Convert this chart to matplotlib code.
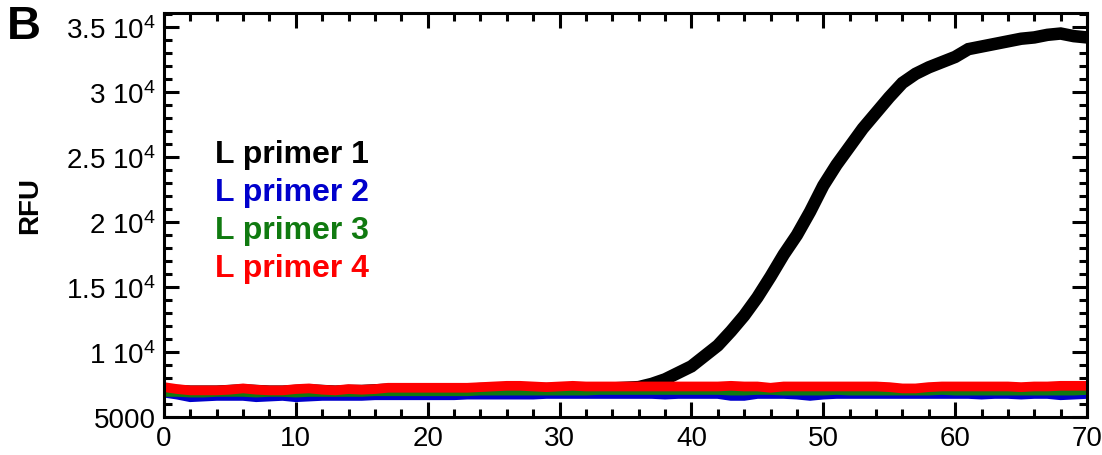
import numpy as np
import matplotlib
matplotlib.use("Agg")
import matplotlib.pyplot as plt
from matplotlib.ticker import MultipleLocator, FuncFormatter

plt.rcParams['font.family'] = ['Liberation Sans', 'DejaVu Sans']
plt.rcParams['mathtext.default'] = 'regular'

cycles = list(range(0, 71))

primer1 = [7050, 7000, 6950, 6950, 6950, 7000, 7050, 7000, 6950, 6950,
           7000, 7050, 7000, 6950, 7000, 7000, 7050, 7100, 7100, 7100,
           7100, 7100, 7100, 7100, 7150, 7150, 7200, 7200, 7150, 7150,
           7150, 7200, 7200, 7200, 7200, 7250, 7300, 7550, 7900, 8400,
           8900, 9700, 10500, 11600, 12800, 14200, 15800, 17500, 19000, 20800,
           22800, 24400, 25800, 27200, 28400, 29600, 30700, 31400, 31900, 32300,
           32700, 33300, 33500, 33700, 33900, 34100, 34200, 34400, 34500, 34300,
           34200]

primer2 = [6900, 6750, 6550, 6600, 6650, 6650, 6650, 6550, 6600, 6650,
           6550, 6600, 6650, 6650, 6650, 6650, 6700, 6700, 6700, 6700,
           6700, 6700, 6700, 6750, 6750, 6750, 6750, 6750, 6750, 6800,
           6800, 6800, 6800, 6800, 6800, 6800, 6800, 6800, 6750, 6800,
           6800, 6800, 6800, 6650, 6650, 6800, 6800, 6800, 6750, 6650,
           6750, 6800, 6800, 6800, 6800, 6800, 6800, 6800, 6800, 6800,
           6800, 6800, 6750, 6800, 6800, 6750, 6800, 6800, 6700, 6750,
           6800]

primer3 = [6850, 6850, 6800, 6800, 6850, 6850, 6850, 6800, 6850, 6850,
           6800, 6850, 6850, 6850, 6850, 6850, 6900, 6900, 6900, 6900,
           6900, 6900, 6900, 6900, 6950, 6950, 6950, 6950, 6950, 6950,
           6950, 6950, 6950, 7000, 7000, 7000, 7000, 7000, 7000, 7000,
           7000, 7000, 7000, 6950, 6950, 7000, 7000, 6950, 6950, 6950,
           6950, 7000, 6950, 6950, 6950, 6950, 6950, 6950, 6950, 7000,
           6950, 6950, 6950, 6950, 6950, 6950, 6950, 6950, 6950, 6950,
           7000]

primer4 = [7300, 7150, 7050, 7050, 7050, 7100, 7200, 7100, 7050, 7050,
           7150, 7200, 7100, 7050, 7150, 7100, 7150, 7250, 7250, 7250,
           7250, 7250, 7250, 7250, 7300, 7350, 7400, 7400, 7350, 7300,
           7350, 7400, 7350, 7350, 7350, 7350, 7350, 7350, 7350, 7350,
           7350, 7350, 7350, 7400, 7350, 7350, 7250, 7350, 7350, 7350,
           7350, 7350, 7350, 7350, 7350, 7300, 7200, 7200, 7300, 7350,
           7350, 7350, 7350, 7350, 7350, 7300, 7350, 7350, 7400, 7400,
           7400]

labels = ['L primer 1', 'L primer 2', 'L primer 3', 'L primer 4']
colors = ['#000000', '#0000cc', '#107a10', '#ff0000']
series = [primer1, primer2, primer3, primer4]
widths = [9.0, 7.5, 5.5, 7.0]

fig = plt.figure(figsize=(11.02, 4.56), dpi=100)
ax = fig.add_axes([0.1488, 0.0833, 0.8376, 0.886])

for ys, c, w in zip(series, colors, widths):
    ax.plot(cycles, ys, color=c, lw=w, solid_joinstyle='miter', solid_capstyle='butt')

ax.set_xlim(0, 70)
ax.set_ylim(5000, 36080)

ax.xaxis.set_major_locator(MultipleLocator(10))
ax.xaxis.set_minor_locator(MultipleLocator(2))
ax.yaxis.set_major_locator(MultipleLocator(5000))
ax.yaxis.set_minor_locator(MultipleLocator(1000))


def yfmt(v, pos):
    if abs(v - 5000) < 1:
        return '5000'
    m = v / 1e4
    s = ('%g' % m)
    return s + r' 10$^{4}$'


ax.yaxis.set_major_formatter(FuncFormatter(yfmt))

ax.tick_params(which='both', direction='in', top=True, right=True, width=2.2,
               labelsize=20, colors='black')
ax.tick_params(which='major', length=11, pad=6)
ax.tick_params(which='minor', length=6)
for sp in ax.spines.values():
    sp.set_linewidth(2.2)

fig.text(0.027, 0.55, 'RFU', rotation=90, fontsize=20, fontweight='bold',
         ha='center', va='center')
fig.text(0.006, 0.94, 'B', fontsize=34, fontweight='bold', ha='left', va='center')

y0 = 0.66
for i, (lab, c) in enumerate(zip(labels, colors)):
    fig.text(0.195, y0 - i * 0.083, lab, color=c, fontsize=23, fontweight='bold',
             ha='left', va='center')

fig.savefig('out.png', dpi=100)
